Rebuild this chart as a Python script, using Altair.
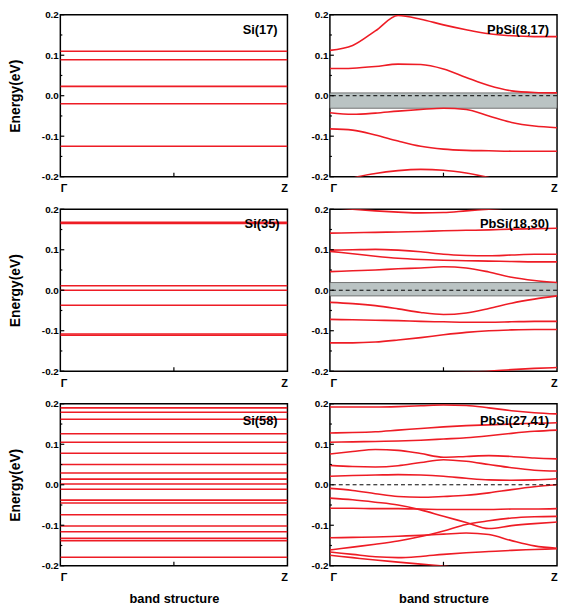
import altair as alt
import pandas as pd

# ---------------- data ----------------
kgrid = [0.0, 0.1, 0.2, 0.3, 0.4, 0.5, 0.6, 0.7, 0.8, 0.9, 1.0]

si17 = [0.110, 0.089, 0.023, -0.020, -0.125]
si35 = [0.168, 0.165, 0.011, 0.000, -0.037, -0.108, -0.111]
si58 = [0.190, 0.179, 0.162, 0.126, 0.105, 0.078, 0.050, 0.029, 0.014, 0.002,
        -0.011, -0.038, -0.045, -0.074, -0.102, -0.116, -0.132, -0.138, -0.179]

pbsi_8_17 = [
    [0.112, 0.124, 0.160, 0.198, 0.189, 0.175, 0.163, 0.153, 0.148, 0.146, 0.146],
    [0.067, 0.068, 0.072, 0.078, 0.077, 0.066, 0.045, 0.025, 0.012, 0.008, 0.007],
    [-0.042, -0.046, -0.043, -0.038, -0.034, -0.031, -0.034, -0.050, -0.066, -0.075, -0.079],
    [-0.082, -0.085, -0.097, -0.112, -0.125, -0.132, -0.135, -0.136, -0.137, -0.137, -0.137],
    [-0.230, -0.204, -0.192, -0.185, -0.182, -0.184, -0.191, -0.202, -0.215, -0.230, -0.245],
]
gap_8_17 = [-0.031, 0.007]

pbsi_18_30 = [
    [0.205, 0.200, 0.196, 0.193, 0.191, 0.192, 0.196, 0.200, 0.204, 0.206, 0.207],
    [0.141, 0.142, 0.143, 0.144, 0.145, 0.147, 0.148, 0.149, 0.151, 0.152, 0.153],
    [0.099, 0.100, 0.101, 0.099, 0.095, 0.089, 0.086, 0.085, 0.087, 0.089, 0.089],
    [0.096, 0.090, 0.084, 0.079, 0.076, 0.074, 0.073, 0.072, 0.071, 0.070, 0.070],
    [0.046, 0.048, 0.050, 0.053, 0.055, 0.058, 0.055, 0.045, 0.032, 0.024, 0.019],
    [-0.030, -0.033, -0.038, -0.046, -0.055, -0.060, -0.056, -0.045, -0.032, -0.022, -0.014],
    [-0.072, -0.073, -0.074, -0.075, -0.077, -0.078, -0.079, -0.079, -0.078, -0.077, -0.077],
    [-0.130, -0.130, -0.128, -0.123, -0.117, -0.110, -0.104, -0.100, -0.098, -0.097, -0.097],
    [-0.203, -0.204, -0.205, -0.205, -0.205, -0.204, -0.202, -0.200, -0.196, -0.193, -0.191],
]
gap_18_30 = [-0.014, 0.019]

pbsi_27_41 = [
    [0.192, 0.192, 0.192, 0.193, 0.195, 0.197, 0.196, 0.190, 0.183, 0.178, 0.175],
    [0.128, 0.129, 0.131, 0.135, 0.139, 0.143, 0.146, 0.148, 0.150, 0.152, 0.153],
    [0.105, 0.106, 0.107, 0.108, 0.110, 0.113, 0.116, 0.121, 0.127, 0.132, 0.135],
    [0.076, 0.082, 0.087, 0.085, 0.077, 0.068, 0.070, 0.072, 0.070, 0.066, 0.064],
    [0.048, 0.045, 0.044, 0.047, 0.055, 0.062, 0.058, 0.050, 0.042, 0.036, 0.034],
    [0.021, 0.023, 0.024, 0.025, 0.024, 0.021, 0.016, 0.012, 0.011, 0.012, 0.015],
    [-0.009, -0.014, -0.022, -0.029, -0.031, -0.029, -0.026, -0.020, -0.012, -0.005, 0.000],
    [-0.033, -0.037, -0.043, -0.050, -0.062, -0.078, -0.093, -0.108, -0.101, -0.096, -0.092],
    [-0.058, -0.058, -0.059, -0.059, -0.060, -0.061, -0.061, -0.061, -0.060, -0.060, -0.059],
    [-0.161, -0.154, -0.147, -0.139, -0.128, -0.114, -0.098, -0.089, -0.082, -0.079, -0.078],
    [-0.131, -0.130, -0.129, -0.127, -0.125, -0.122, -0.119, -0.123, -0.138, -0.151, -0.157],
    [-0.166, -0.172, -0.178, -0.180, -0.177, -0.172, -0.168, -0.165, -0.162, -0.160, -0.158],
    [-0.174, -0.180, -0.186, -0.191, -0.196, -0.201, -0.207, -0.213, -0.220, -0.227, -0.234],
]

y_major = [-0.2, -0.1, 0.0, 0.1, 0.2]
y_minor = [-0.15, -0.05, 0.05, 0.15]

# ---------------- styling ----------------
W, H = 230, 164
RED = "#ee1c25"
FONT = "Liberation Sans"

yscale = alt.Scale(domain=[-0.2, 0.2], nice=False, zero=False)
xscale = alt.Scale(domain=[0, 1], nice=False, zero=False)


def y_axis(first_col):
    kw = dict(values=y_major, labelExpr="replace(format(datum.value, '.1f'), '−', '-')",
              ticks=False, domain=False, grid=False, labelPadding=2,
              labelFont=FONT, labelFontSize=10, labelFontWeight="bold", labelColor="black")
    if first_col:
        kw.update(titleFont=FONT, titleFontSize=14,
                  titleFontWeight="bold", titleColor="black", titlePadding=19)
    return alt.Axis(**kw)


def x_axis(last_row):
    kw = dict(values=[0, 1], labelExpr="datum.value == 0 ? 'Γ' : 'Z'", labelFlush=True,
              ticks=False, domain=False, grid=False, labelPadding=6,
              labelFont=FONT, labelFontSize=11, labelFontWeight="bold", labelColor="black")
    if last_row:
        kw.update(titleFont=FONT, titleFontSize=13,
                  titleFontWeight="bold", titleColor="black", titlePadding=10)
    return alt.Axis(**kw)


def flat_bands(levels):
    rows = []
    for i, v in enumerate(levels):
        for k in (0.0, 1.0):
            rows.append({"k": k, "E": v, "band": i})
    return pd.DataFrame(rows)


def curved_bands(bands):
    rows = []
    for i, b in enumerate(bands):
        for k, v in zip(kgrid, b):
            rows.append({"k": k, "E": v, "band": i})
    return pd.DataFrame(rows)


def panel(df, label, first_col, last_row, gap=None, dashed=False, label_y=15, label_dx=9):
    yt = "Energy(eV)" if first_col else None
    xt = "band structure" if last_row else None
    ya = y_axis(first_col)
    xa = x_axis(last_row)

    def Y(f):
        return alt.Y(f, scale=yscale, axis=ya, title=yt)

    def X(f):
        return alt.X(f, scale=xscale, axis=xa, title=xt)

    layers = []
    if gap is not None:
        gdf = pd.DataFrame({"lo": [gap[0]], "hi": [gap[1]], "k0": [0.0], "k1": [1.0]})
        layers.append(alt.Chart(gdf).mark_rect(fill="#bac3c3", stroke="#5a5a5a", strokeWidth=0.8).encode(
            x=X("k0:Q"), x2="k1:Q", y=Y("lo:Q"), y2="hi:Q"))
    lines = alt.Chart(df).mark_line(color=RED, strokeWidth=1.6, interpolate="monotone", clip=True).encode(
        x=X("k:Q"), y=Y("E:Q"), detail="band:N")
    layers.append(lines)
    if dashed:
        layers.append(alt.Chart(pd.DataFrame({"E": [0.0]})).mark_rule(
            color="black", strokeDash=[4, 3], strokeWidth=1).encode(y=Y("E:Q")))
    # inward ticks
    layers.append(alt.Chart(pd.DataFrame({"E": y_major})).mark_rule(color="black", strokeWidth=1.2).encode(
        y=Y("E:Q"), x=alt.value(0), x2=alt.value(4)))
    layers.append(alt.Chart(pd.DataFrame({"E": y_minor})).mark_rule(color="black", strokeWidth=1.2).encode(
        y=Y("E:Q"), x=alt.value(0), x2=alt.value(2)))
    layers.append(alt.Chart(pd.DataFrame({"k": [0.5]})).mark_rule(color="black", strokeWidth=1.2).encode(
        x=X("k:Q"), y=alt.value(H), y2=alt.value(H - 4)))
    layers.append(alt.Chart(pd.DataFrame({"lab": [label]})).mark_text(
        align="right", baseline="middle", font=FONT, fontSize=13, fontWeight="bold", color="black").encode(
        text="lab:N", x=alt.value(W - label_dx), y=alt.value(label_y)))
    return alt.layer(*layers).properties(width=W, height=H)


row1 = alt.hconcat(
    panel(flat_bands(si17), "Si(17)", True, False, label_dx=10),
    panel(curved_bands(pbsi_8_17), "PbSi(8,17)", False, False, gap=gap_8_17, dashed=True, label_dx=8),
    spacing=22)
row2 = alt.hconcat(
    panel(flat_bands(si35), "Si(35)", True, False, label_dx=8),
    panel(curved_bands(pbsi_18_30), "PbSi(18,30)", False, False, gap=gap_18_30, dashed=True, label_dx=8),
    spacing=22)
row3 = alt.hconcat(
    panel(flat_bands(si58), "Si(58)", True, True, label_y=17, label_dx=10),
    panel(curved_bands(pbsi_27_41), "PbSi(27,41)", False, True, dashed=True, label_y=17, label_dx=8),
    spacing=22)

chart = alt.vconcat(row1, row2, row3, spacing=9).properties(
    padding={"left": 0, "top": -3, "right": 0, "bottom": 0},
    background="white"
).configure_view(stroke="black", strokeWidth=1.5)

chart.save("out.html", embed_options={"renderer": "svg", "actions": False})
